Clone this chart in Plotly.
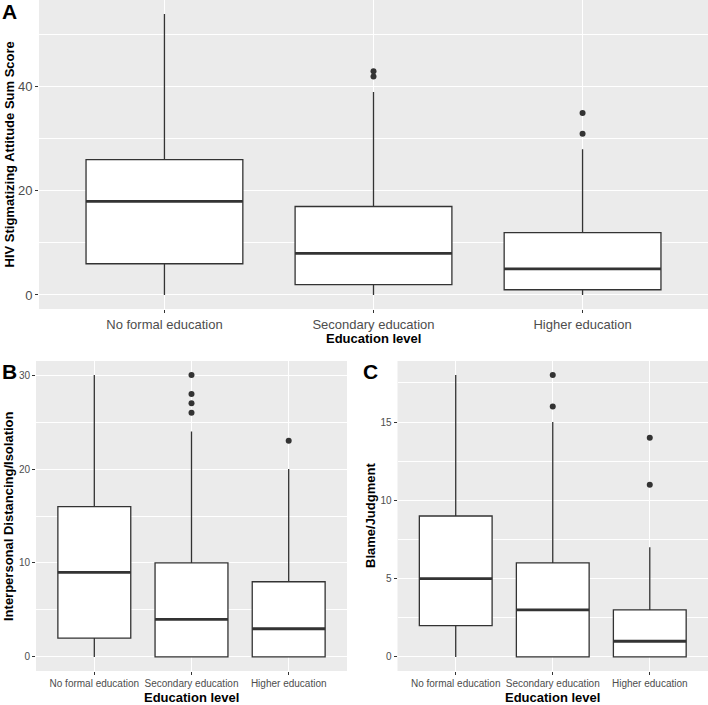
import plotly.graph_objects as go

W, H = 708, 705

categories = ["No formal education", "Secondary education", "Higher education"]

# Panel A - HIV stigmatizing attitude sum score
a_low = [0, 0, 0]
a_q1 = [6, 2, 1]
a_median = [18, 8, 5]
a_q3 = [26, 17, 12]
a_high = [54, 39, 28]
a_out_x = ["Secondary education", "Secondary education", "Higher education", "Higher education"]
a_out_y = [42, 43, 31, 35]

# Panel B - interpersonal distancing/isolation
b_low = [0, 0, 0]
b_q1 = [2, 0, 0]
b_median = [9, 4, 3]
b_q3 = [16, 10, 8]
b_high = [30, 24, 20]
b_out_x = ["Secondary education"] * 4 + ["Higher education"]
b_out_y = [26, 27, 28, 30, 23]

# Panel C - blame/judgment
c_low = [0, 0, 0]
c_q1 = [2, 0, 0]
c_median = [5, 3, 1]
c_q3 = [9, 6, 3]
c_high = [18, 15, 7]
c_out_x = ["Secondary education", "Secondary education", "Higher education", "Higher education"]
c_out_y = [16, 18, 11, 14]

LINE = "#333333"
TXT = "#4D4D4D"
FONT = "Liberation Sans, Arial, sans-serif"


def px(x):
    return x / W


def py(y):
    return 1 - y / H


def add_panel(fig, xa, ya, low, q1, med, q3, high, out_x, out_y):
    fig.add_trace(go.Box(
        x=categories, q1=q1, median=med, q3=q3, lowerfence=low, upperfence=high,
        fillcolor="white", line=dict(color=LINE, width=1.3), whiskerwidth=0,
        width=0.75, boxpoints=False, xaxis=xa, yaxis=ya, showlegend=False,
        hoverinfo="skip"))
    # thicker median bar (ggplot fatten)
    fig.add_trace(go.Box(
        x=categories, q1=med, median=med, q3=med, lowerfence=med, upperfence=med,
        fillcolor="rgba(0,0,0,0)", line=dict(color=LINE, width=2.8), whiskerwidth=0,
        width=0.75, boxpoints=False, xaxis=xa, yaxis=ya, showlegend=False,
        hoverinfo="skip"))
    fig.add_trace(go.Scatter(
        x=out_x, y=out_y, mode="markers", marker=dict(color=LINE, size=6),
        xaxis=xa, yaxis=ya, showlegend=False, hoverinfo="skip"))


fig = go.Figure()
add_panel(fig, "x", "y", a_low, a_q1, a_median, a_q3, a_high, a_out_x, a_out_y)
add_panel(fig, "x2", "y2", b_low, b_q1, b_median, b_q3, b_high, b_out_x, b_out_y)
add_panel(fig, "x3", "y3", c_low, c_q1, c_median, c_q3, c_high, c_out_x, c_out_y)


def xaxis(domain, anchor, size):
    return dict(domain=domain, anchor=anchor, type="category", range=[-0.6, 2.6],
                categoryorder="array", categoryarray=categories,
                showgrid=True, gridcolor="white", gridwidth=1.1, zeroline=False,
                ticks="outside", ticklen=3, tickwidth=1, tickcolor=LINE,
                tickfont=dict(size=size, color=TXT, family=FONT),
                showline=False, automargin=False, fixedrange=True)


def yaxis(domain, anchor, rng, dtick, size):
    return dict(domain=domain, anchor=anchor, range=rng, tick0=0, dtick=dtick,
                showgrid=True, gridcolor="white", gridwidth=1.1, zeroline=False,
                minor=dict(dtick=dtick / 2, tick0=0, showgrid=True,
                           gridcolor="white", gridwidth=0.55),
                ticks="outside", ticklen=3, tickwidth=1, tickcolor=LINE,
                tickfont=dict(size=size, color=TXT, family=FONT),
                showline=False, automargin=False, fixedrange=True)


top_a = [py(309), py(0)]
bot = [py(671), py(361)]

fig.update_layout(
    width=W, height=H,
    margin=dict(l=0, r=0, t=0, b=0),
    paper_bgcolor="white", plot_bgcolor="#EBEBEB",
    boxmode="overlay",
    font=dict(family=FONT, color=TXT),
    xaxis=xaxis([px(39), 1], "y", 13),
    yaxis=yaxis(top_a, "x", [-2.7, 56.7], 20, 13),
    xaxis2=xaxis([px(36), px(347)], "y2", 10),
    yaxis2=yaxis(bot, "x2", [-1.5, 31.5], 10, 10),
    xaxis3=xaxis([px(397.5), 1], "y3", 10),
    yaxis3=yaxis(bot, "x3", [-0.9, 18.9], 5, 10),
)

title_font = dict(family=FONT, size=13, color="black")
letter_font = dict(family=FONT, size=21, color="black")
notes = [
    # panel letters
    dict(text="<b>A</b>", x=px(0), y=py(-2), xanchor="left", yanchor="top", font=letter_font),
    dict(text="<b>B</b>", x=px(0), y=py(358), xanchor="left", yanchor="top", font=letter_font),
    dict(text="<b>C</b>", x=px(361), y=py(358), xanchor="left", yanchor="top", font=letter_font),
    # x titles
    dict(text="<b>Education level</b>", x=px(373.5), y=py(339), xanchor="center", yanchor="middle", font=title_font),
    dict(text="<b>Education level</b>", x=px(191.5), y=py(697.5), xanchor="center", yanchor="middle", font=title_font),
    dict(text="<b>Education level</b>", x=px(552.7), y=py(697.5), xanchor="center", yanchor="middle", font=title_font),
    # y titles
    dict(text="<b>HIV Stigmatizing Attitude Sum Score</b>", x=px(8.5), y=py(155), textangle=-90,
         xanchor="center", yanchor="middle", font=title_font),
    dict(text="<b>Interpersonal Distancing/Isolation</b>", x=px(8), y=py(516), textangle=-90,
         xanchor="center", yanchor="middle", font=title_font),
    dict(text="<b>Blame/Judgment</b>", x=px(370), y=py(516), textangle=-90,
         xanchor="center", yanchor="middle", font=title_font),
]
fig.update_layout(annotations=[dict(xref="paper", yref="paper", showarrow=False, **n) for n in notes])

# page body has a default margin; drop it so the figure sits at the corner
fig.write_html("out.html", config={"displayModeBar": False},
               post_script="document.body.style.margin='0';")
